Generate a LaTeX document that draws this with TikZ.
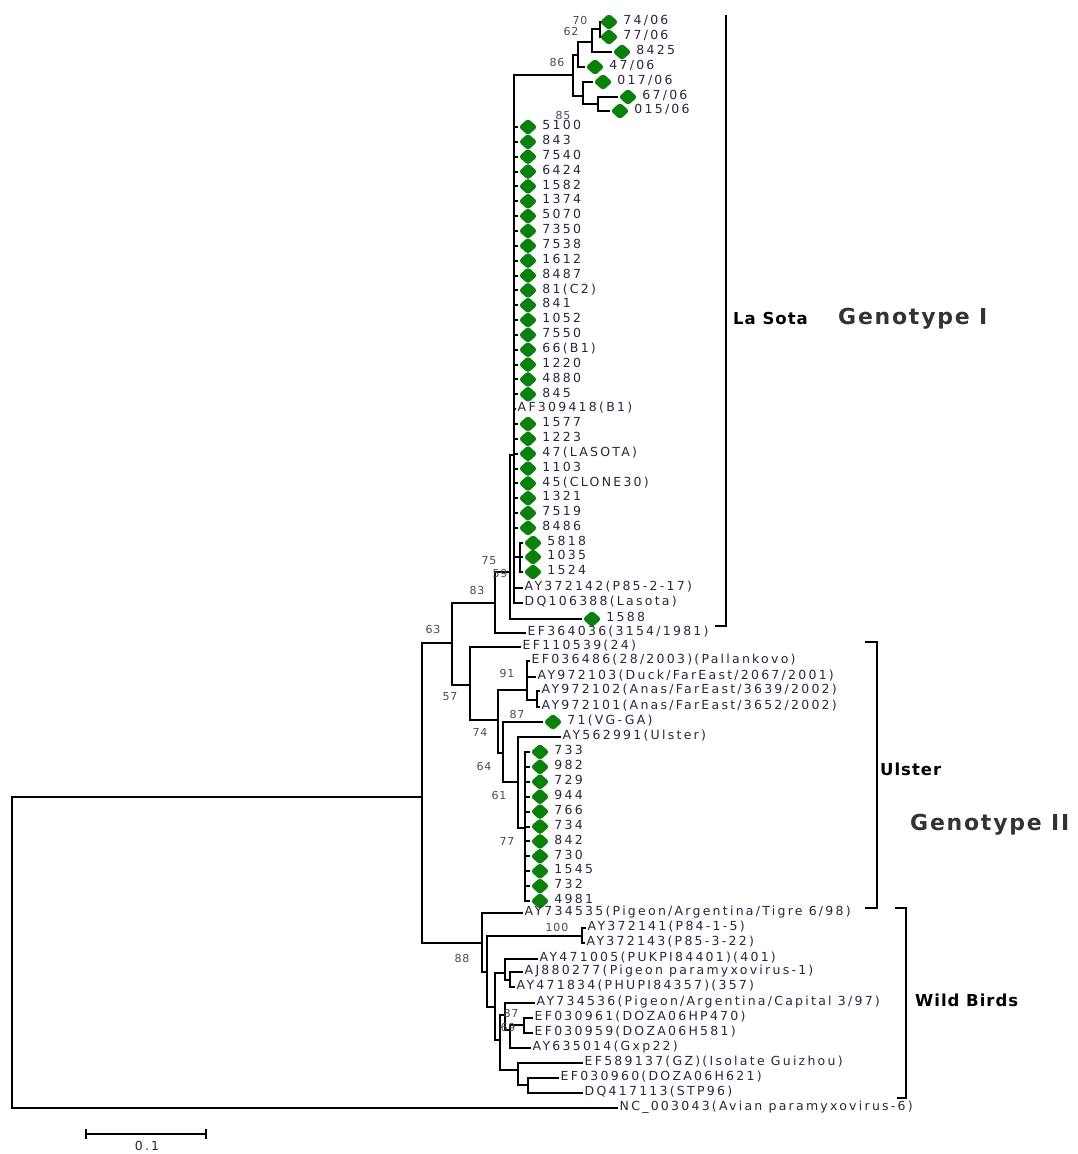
\documentclass[tikz,border=0pt]{standalone}
\usepackage{fontspec}
\usepackage{tikz}
\usetikzlibrary{shapes.geometric}
\setmainfont{DejaVu Sans}
\newfontfamily\leaffont[LetterSpace=18]{DejaVu Sans}
\newfontfamily\bootfont[LetterSpace=8]{DejaVu Sans}
\newfontfamily\cladefont[LetterSpace=6]{DejaVu Sans}
\newfontfamily\genofont[LetterSpace=8]{DejaVu Sans}
\definecolor{leafgreen}{HTML}{0B800B}
\definecolor{labelink}{HTML}{2B2540}
\definecolor{genogray}{HTML}{333333}

\begin{document}
\begin{tikzpicture}[x=1pt,y=-1pt,
  branch/.style={line width=2pt},
  isolate/.style={diamond,fill=leafgreen,inner sep=0pt,minimum width=19pt,minimum height=17pt,rounded corners=3pt},
  taxon/.style={anchor=mid west,inner xsep=1.5pt,inner ysep=0pt,text=labelink,font=\leaffont\fontsize{12.5}{13}\selectfont},
  boot/.style={inner sep=0pt,text=labelink!85,font=\bootfont\fontsize{11}{12}\selectfont},
  clade/.style={anchor=mid west,inner sep=0pt,text=black,font=\cladefont\bfseries\fontsize{16.5}{18}\selectfont},
  geno/.style={anchor=mid west,inner sep=0pt,text=genogray,font=\genofont\bfseries\fontsize{22}{24}\selectfont},
  bracket/.style={line width=2.2pt}]
\useasboundingbox (0,0) rectangle (1078,1154);

% internal nodes of the tree (pixel grid, y downwards)
\coordinate (root) at (12,950);
\coordinate (ingrp) at (422,797);
\coordinate (n63) at (452,643);
\coordinate (n83) at (495,603);
\coordinate (n75) at (510,572);
\coordinate (poly) at (514,455);
\coordinate (n59) at (520,557);
\coordinate (n86) at (573,75);
\coordinate (n86a) at (578,55);
\coordinate (n62) at (592,42);
\coordinate (n70) at (600,29);
\coordinate (n86b) at (583,96);
\coordinate (n86c) at (598,104);
\coordinate (n57) at (470,685);
\coordinate (n74) at (498,720);
\coordinate (n91) at (527,690);
\coordinate (n91b) at (537,700);
\coordinate (n64) at (503,753);
\coordinate (n61) at (518,782);
\coordinate (n77) at (525,828);
\coordinate (n88) at (482,943);
\coordinate (n88b) at (487,972);
\coordinate (n100) at (582,936);
\coordinate (n88c) at (495,1007);
\coordinate (n88d) at (505,973);
\coordinate (n88d2) at (510,980);
\coordinate (n88e) at (500,1040);
\coordinate (n88f) at (505,1015);
\coordinate (n87) at (510,1030);
\coordinate (n69) at (524,1025);
\coordinate (n88g) at (518,1070);
\coordinate (n88h) at (528,1085);

% Genotype I, small subclade
\node[isolate] (m7406) at (609,22) {};
\node[taxon] (t7406) at ([xshift=3pt]m7406.east) {74/06};
\node[isolate] (m7706) at (609,37) {};
\node[taxon] (t7706) at ([xshift=3pt]m7706.east) {77/06};
\node[isolate] (m8425) at (622,52) {};
\node[taxon] (t8425) at ([xshift=3pt]m8425.east) {8425};
\node[isolate] (m4706) at (595,67) {};
\node[taxon] (t4706) at ([xshift=3pt]m4706.east) {47/06};
\node[isolate] (m01706) at (603,82) {};
\node[taxon] (t01706) at ([xshift=3pt]m01706.east) {017/06};
\node[isolate] (m6706) at (628,97) {};
\node[taxon] (t6706) at ([xshift=3pt]m6706.east) {67/06};
\node[isolate] (m01506) at (620,111) {};
\node[taxon] (t01506) at ([xshift=3pt]m01506.east) {015/06};

% Genotype I, La Sota comb
\foreach \txt [count=\k] in {5100,843,7540,6424,1582,1374,5070,7350,7538,1612,8487,81(C2),841,1052,7550,66(B1),1220,4880,845,AF309418(B1),1577,1223,47(LASOTA),1103,45(CLONE30),1321,7519,8486}{
  \pgfmathsetmacro{\yy}{112.15+14.85*\k}
  \ifnum\k=20
    \node[taxon] (lsl\k) at (516,\yy) {\txt};
    \draw[branch] (poly) |- (lsl\k.mid west);
  \else
    \node[isolate] (lsm\k) at (528,\yy) {};
    \node[taxon] (lsl\k) at ([xshift=3pt]lsm\k.east) {\txt};
    \draw[branch] (poly) |- (lsm\k.west);
  \fi
}
\node[isolate] (m5818) at (533,543) {};
\node[taxon] (t5818) at ([xshift=3pt]m5818.east) {5818};
\node[isolate] (m1035) at (533,557) {};
\node[taxon] (t1035) at ([xshift=3pt]m1035.east) {1035};
\node[isolate] (m1524) at (533,572) {};
\node[taxon] (t1524) at ([xshift=3pt]m1524.east) {1524};
\node[taxon] (tAY372142) at (523,588) {AY372142(P85-2-17)};
\node[taxon] (tDQ106388) at (523,603) {DQ106388(Lasota)};
\node[isolate] (m1588) at (592,619) {};
\node[taxon] (t1588) at ([xshift=3pt]m1588.east) {1588};
\node[taxon] (tEF364036) at (526,633) {EF364036(3154/1981)};

% Genotype II
\node[taxon] (tEF110539) at (521,647) {EF110539(24)};
\node[taxon] (tEF036486) at (530,661) {EF036486(28/2003)(Pallankovo)};
\node[taxon] (tAY972103) at (536,677) {AY972103(Duck/FarEast/2067/2001)};
\node[taxon] (tAY972102) at (540,691) {AY972102(Anas/FarEast/3639/2002)};
\node[taxon] (tAY972101) at (540,707) {AY972101(Anas/FarEast/3652/2002)};
\node[isolate] (m71) at (553,722) {};
\node[taxon] (t71) at ([xshift=3pt]m71.east) {71(VG-GA)};
\node[taxon] (tAY562991) at (561,737) {AY562991(Ulster)};
\foreach \txt [count=\k] in {733,982,729,944,766,734,842,730,1545,732,4981}{
  \pgfmathsetmacro{\yy}{737.1+14.9*\k}
  \node[isolate] (ulm\k) at (540,\yy) {};
  \node[taxon] (ull\k) at ([xshift=3pt]ulm\k.east) {\txt};
  \draw[branch] (n77) |- (ulm\k.west);
}

% wild birds and outgroup
\node[taxon] (tAY734535) at (523,913) {AY734535(Pigeon/Argentina/Tigre 6/98)};
\node[taxon] (tAY372141) at (586,928) {AY372141(P84-1-5)};
\node[taxon] (tAY372143) at (585,943) {AY372143(P85-3-22)};
\node[taxon] (tAY471005) at (538,959) {AY471005(PUKPI84401)(401)};
\node[taxon] (tAJ880277) at (523,972) {AJ880277(Pigeon paramyxovirus-1)};
\node[taxon] (tAY471834) at (515,987) {AY471834(PHUPI84357)(357)};
\node[taxon] (tAY734536) at (535,1003) {AY734536(Pigeon/Argentina/Capital 3/97)};
\node[taxon] (tEF030961) at (533,1018) {EF030961(DOZA06HP470)};
\node[taxon] (tEF030959) at (533,1033) {EF030959(DOZA06H581)};
\node[taxon] (tAY635014) at (531,1048) {AY635014(Gxp22)};
\node[taxon] (tEF589137) at (583,1063) {EF589137(GZ)(Isolate Guizhou)};
\node[taxon] (tEF030960) at (559,1078) {EF030960(DOZA06H621)};
\node[taxon] (tDQ417113) at (583,1093) {DQ417113(STP96)};
\node[taxon] (tNC) at (618,1108) {NC\_003043(Avian paramyxovirus-6)};

% branches
\foreach \p/\c in {root/ingrp, root/tNC.mid west, ingrp/n63, ingrp/n88,
    n63/n83, n63/n57, n83/n75, n83/tEF364036.mid west,
    n75/poly, n75/m1588.west, poly/n86, poly/n59,
    poly/tAY372142.mid west, poly/tDQ106388.mid west,
    n59/m5818.west, n59/m1035.west, n59/m1524.west,
    n86/n86a, n86/n86b, n86a/n62, n86a/m4706.west,
    n62/n70, n62/m8425.west, n70/m7406.west, n70/m7706.west,
    n86b/m01706.west, n86b/n86c, n86c/m6706.west, n86c/m01506.west,
    n57/tEF110539.mid west, n57/n74, n74/n91, n74/n64,
    n91/tEF036486.mid west, n91/tAY972103.mid west, n91/n91b,
    n91b/tAY972102.mid west, n91b/tAY972101.mid west,
    n64/m71.west, n64/n61, n61/tAY562991.mid west, n61/n77,
    n88/tAY734535.mid west, n88/n88b, n88b/n100, n88b/n88c,
    n100/tAY372141.mid west, n100/tAY372143.mid west,
    n88c/n88d, n88c/n88e, n88d/tAY471005.mid west, n88d/n88d2,
    n88d2/tAJ880277.mid west, n88d2/tAY471834.mid west,
    n88e/n88f, n88e/n88g, n88f/tAY734536.mid west, n88f/n87,
    n87/n69, n87/tAY635014.mid west,
    n69/tEF030961.mid west, n69/tEF030959.mid west,
    n88g/tEF589137.mid west, n88g/n88h,
    n88h/tEF030960.mid west, n88h/tDQ417113.mid west}
  \draw[branch] (\p) |- (\c);

% bootstrap values
\foreach \v/\x/\y [count=\k] in {70/580/20, 62/571/31, 86/557/62, 85/563/115,
    75/489/561, 59/500/573, 83/477/590, 63/433/629, 57/450/697,
    91/507/673, 87/517/714, 74/480/732, 64/484/766, 61/499/795,
    77/507/841, 100/557/927, 88/462/958, 87/511/1013, 69/508/1027}
  \node[boot] (bs\k) at (\x,\y) {\v};

% clade brackets
\draw[bracket] (726,15) -- (726,626) -- (715,626);
\draw[bracket] (865,642) -- (877,642) -- (877,908) -- (865,908);
\draw[bracket] (895,908) -- (906,908) -- (906,1098) -- (897,1098);
\node[clade] (lasota) at (733,322) {La Sota};
\node[geno] (geno1) at (838,322) {Genotype I};
\node[clade] (ulster) at (880,773) {Ulster};
\node[geno] (geno2) at (910,828) {Genotype II};
\node[clade] (wild) at (915,1004) {Wild Birds};

% scale bar
\coordinate (sbl) at (86,1134);
\coordinate (sbr) at (206,1134);
\draw[line width=1.4pt] (sbl) -- (sbr);
\draw[line width=1.4pt] ([yshift=-5pt]sbl) -- ([yshift=5pt]sbl);
\draw[line width=1.4pt] ([yshift=-5pt]sbr) -- ([yshift=5pt]sbr);
\node[taxon,anchor=center] (sblab) at (147,1146) {0.1};
\end{tikzpicture}
\end{document}
